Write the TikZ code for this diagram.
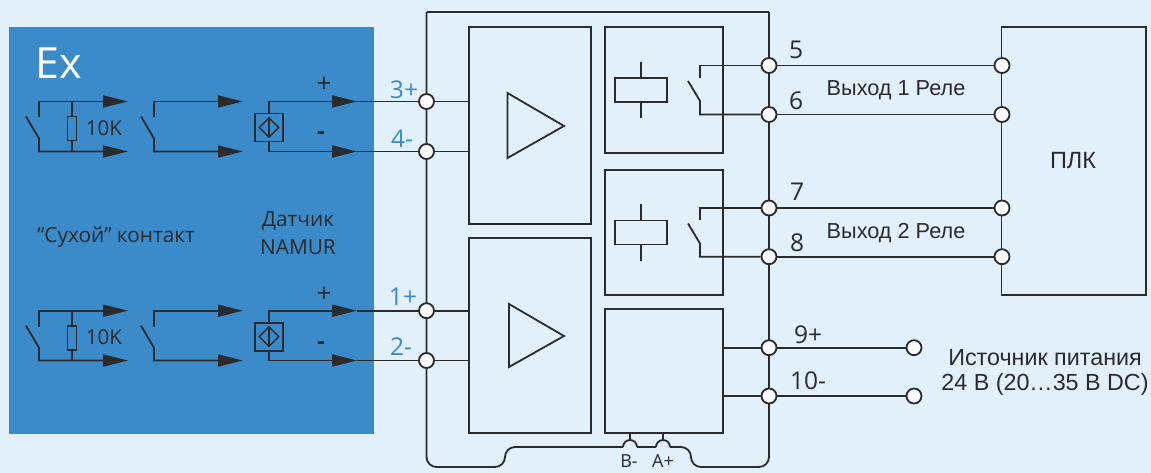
\documentclass[tikz,border=0pt]{standalone}
\usepackage{fontspec}
\setmainfont{Open Sans}
\newfontfamily\arialfont{Liberation Sans}
\usetikzlibrary{arrows.meta,shapes.geometric}
\definecolor{paleblue}{HTML}{E1F0FB}
\definecolor{exblue}{HTML}{3B8ACA}
\definecolor{wirecol}{HTML}{2B2A2C}
\tikzset{
  wire/.style={draw=wirecol,line width=1.8pt},
  sensorarrow/.style={wire,-{Triangle[length=25pt,width=12pt]}},
  block/.style={wire,rectangle,inner sep=0pt,outer sep=0pt,anchor=north west},
  term/.style={wire,circle,fill=white,minimum size=15pt,inner sep=0pt},
  lbl/.style={text=wirecol,font=\fontsize{24.5}{24}\selectfont},
  arlbl/.style={text=wirecol,font=\arialfont\fontsize{21.7}{24}\selectfont},
  pinlbl/.style={text=exblue,font=\fontsize{24.5}{24}\selectfont},
}
\begin{document}
\begin{tikzpicture}[x=1pt,y=-1pt]
  \useasboundingbox (0,0) rectangle (1151,473);
  \fill[paleblue] (0,0) rectangle (1151,473);
  \fill[exblue] (9,27) rectangle (374,434);
  \node[text=white,font=\fontsize{43}{48}\selectfont] (ex) at (59,63) {Ex};

  % housing
  \coordinate (bl) at (426.5,467);
  \coordinate (br) at (769,467);
  \draw[wire,rounded corners=10pt] (426.5,12) -- (bl) -- (505,467) -- (505,447) -- (623,447);
  \draw[wire] (637,447) -- (656,447);
  \draw[wire,rounded corners=10pt] (670,447) -- (691,447) -- (691,467) -- (br) -- (769,12);
  \draw[wire] (426.5,12) -- (769,12);
  \draw[wire] (623,447) arc[start angle=180,end angle=0,radius=7pt];
  \draw[wire] (656,447) arc[start angle=180,end angle=0,radius=7pt];

  % blocks
  \node[block,minimum width=122pt,minimum height=197pt] (amptop) at (469,27) {};
  \node[block,minimum width=122pt,minimum height=195pt] (ampbot) at (469,238) {};
  \node[block,minimum width=118pt,minimum height=126pt] (relaytop) at (605,27) {};
  \node[block,minimum width=118pt,minimum height=125pt] (relaybot) at (605,170) {};
  \node[block,minimum width=118pt,minimum height=124pt,line width=2.2pt] (psu) at (605,309) {};
  \node[block,minimum width=144.5pt,minimum height=268pt] (plc) at (1001.5,27) {};
  \draw[wire,line join=miter] (507.5,93) -- (564,126) -- (507.5,158) -- cycle;
  \draw[wire,line join=miter] (509,304) -- (564,336) -- (509,367) -- cycle;

  % terminals
  \foreach \tname/\tx/\ty in {t3/426.5/101.5,t4/426.5/151.5,t1/426.5/310.7,t2/426.5/360.5,
      t5/769/65.5,t6/769/114.5,t7/769/208,t8/769/256.7,t9/769/347.7,t10/769/396,
      p5/1002/65.5,p6/1002/114.5,p7/1002/208,p8/1002/256.7,vplus/914/347.7,vminus/914/396}
    \node[term] (\tname) at (\tx,\ty) {};

  % input rows
  \foreach \row/\ya/\yb/\pa/\pb in {u/101.5/151.5/t3/t4,d/310.7/360.5/t1/t2}{
    \pgfmathsetmacro{\ym}{(\ya+\yb)/2}
    % contact with resistor
    \draw[sensorarrow] (39,\ya+16) -- (39,\ya) -- (128,\ya);
    \draw[sensorarrow] (26,\ya+15) -- (39,\ya+37) -- (39,\yb) -- (128,\yb);
    \node[wire,rectangle,minimum width=9pt,minimum height=24pt,inner sep=0pt] (res\row) at (72,\ym+2) {};
    \draw[wire] (72,\ya) -- (res\row);
    \draw[wire] (res\row) -- (72,\yb);
    \node[lbl,font=\fontsize{20.5}{24}\selectfont] (ohm\row) at (104,\ym+2) {10K};
    % dry contact
    \draw[sensorarrow] (154,\ya+16) -- (154,\ya) -- (243,\ya);
    \draw[sensorarrow] (141,\ya+15) -- (154,\ya+37) -- (154,\yb) -- (243,\yb);
    % namur sensor
    \node[wire,rectangle,minimum size=28pt,inner sep=0pt] (nam\row) at (269,\ym+1) {};
    \node[wire,diamond,minimum size=20pt,inner sep=0pt,line width=1.4pt] (dia\row) at (nam\row) {};
    \draw[wire,line width=1.4pt] (dia\row.north) -- (dia\row.south);
    \coordinate (tipa\row) at (357,\ya);
    \coordinate (tipb\row) at (357,\yb);
    \draw[sensorarrow] (nam\row.north) -- (269,\ya) -- (tipa\row);
    \draw[sensorarrow] (nam\row.south) -- (269,\yb) -- (tipb\row);
    \draw[wire] (tipa\row) -- (\pa);
    \draw[wire] (tipb\row) -- (\pb);
    \draw[wire] (\pa) -- (amptop.west |- \pa);
    \draw[wire] (\pb) -- (amptop.west |- \pb);
  }

  % relays
  \foreach \rel/\dy/\pa/\pb/\pc/\pd in {a/0/t5/t6/p5/p6,b/142.5/t7/t8/p7/p8}{
    \node[wire,rectangle,minimum width=51.5pt,minimum height=24pt,inner sep=0pt] (coil\rel) at (641,90+\dy) {};
    \coordinate (cta\rel) at (641,62+\dy);
    \coordinate (ctb\rel) at (641,118+\dy);
    \draw[wire] (cta\rel) -- (coil\rel);
    \draw[wire] (coil\rel) -- (ctb\rel);
    \draw[wire] (700,78+\dy) |- (\pa);
    \draw[wire] (688,81+\dy) -- (700,101+\dy) |- (\pb);
    \draw[wire] (\pa) -- (\pc);
    \draw[wire] (\pb) -- (\pd);
  }

  % supply
  \draw[wire] (723,347.7) -- (t9);
  \draw[wire] (723,396) -- (t10);
  \draw[wire] (t9) -- (vplus);
  \draw[wire] (t10) -- (vminus);
  \draw[wire] (630,433) -- (630,440);
  \draw[wire] (663,433) -- (663,440);

  % texts
  \node[pinlbl] (l3) at (404,90) {3+};
  \node[pinlbl] (l4) at (402,139) {4-};
  \node[pinlbl] (l1) at (403,297) {1+};
  \node[pinlbl] (l2) at (401,347) {2-};
  \foreach \row/\dy in {u/0,d/209.5}{
    \node[lbl,font=\fontsize{26}{24}\selectfont] (plus\row) at (324,85+\dy) {+};
    \node[lbl,font=\fontsize{24}{24}\selectfont\bfseries] (minus\row) at (321,136+\dy) {-};
  }
  \node[lbl,font=\fontsize{20.8}{24}\selectfont] (dry) at (116,237.5) {“Сухой” контакт};
  \node[lbl,font=\fontsize{20.8}{28}\selectfont,align=center] (namur) at (298,233) {Датчик\\NAMUR};
  \node[lbl] (n5) at (796,50) {5};
  \node[lbl] (n6) at (796,101) {6};
  \node[lbl] (n7) at (797,192) {7};
  \node[lbl] (n8) at (797,243) {8};
  \node[lbl] (n9) at (808,335) {9+};
  \node[lbl] (n10) at (808,381) {10-};
  \node[arlbl] (out1) at (896,90.5) {Выход 1 Реле};
  \node[arlbl] (out2) at (896,233.5) {Выход 2 Реле};
  \node[arlbl,font=\arialfont\fontsize{23.5}{24}\selectfont] (plk) at (1073,161) {ПЛК};
  \node[arlbl,font=\arialfont\fontsize{23.3}{24}\selectfont] (src1) at (1045,358) {Источник питания};
  \node[arlbl,font=\arialfont\fontsize{23.3}{24}\selectfont] (src2) at (1045,384) {24 В (20…35 В DC)};
  \node[lbl,font=\fontsize{18}{24}\selectfont,anchor=base,inner sep=0pt] (bm) at (629,467.5) {В-};
  \node[lbl,font=\fontsize{18}{24}\selectfont,anchor=base,inner sep=0pt] (ap) at (663,467.5) {А+};
\end{tikzpicture}
\end{document}
